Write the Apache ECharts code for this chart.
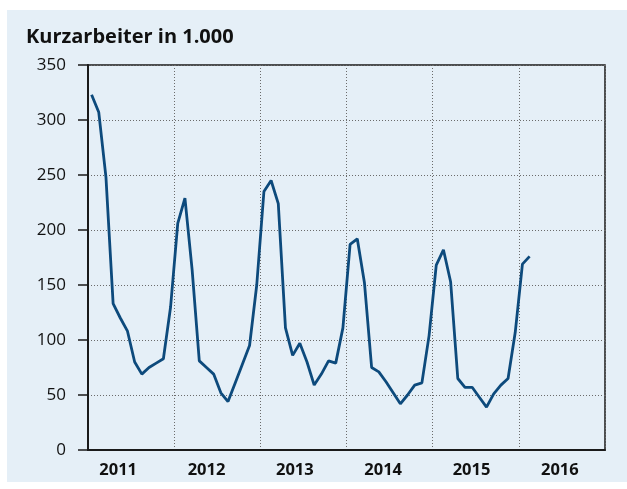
<!DOCTYPE html>
<html>
<head>
<meta charset="utf-8">
<script src="https://cdn.jsdelivr.net/npm/echarts@6/dist/echarts.min.js"></script>
<style>
  html, body { margin: 0; padding: 0; background: #ffffff; }
  #bg { position: absolute; left: 7px; top: 10px; width: 620px; height: 472px; background: #e5eff7; }
  #chart { position: absolute; left: 0; top: 0; width: 627px; height: 489px; }
</style>
</head>
<body>
<div id="bg"></div>
<div id="chart"></div>
<script>
// monthly values, Jan 2011 .. Feb 2016 (thousands)
const values2011 = [323, 307, 248, 133, 120, 108, 80, 69, 75, 79, 83, 130];
const values2012 = [206, 229, 164, 81, 75, 69, 52, 44, 61, 78, 95, 150];
const values2013 = [235, 245, 224, 111, 86, 97, 80, 59, 69, 81, 79, 111];
const values2014 = [187, 192, 152, 75, 71, 62, 52, 42, 50, 59, 61, 104];
const values2015 = [168, 182, 153, 65, 57, 57, 48, 39, 51, 59, 65, 107];
const values2016 = [169, 176];
const years = ['2011', '2012', '2013', '2014', '2015', '2016'];
const title = 'Kurzarbeiter in 1.000';

const monthly = [].concat(values2011, values2012, values2013, values2014, values2015, values2016);
// point sits in the middle of its month
const lineData = monthly.map((v, i) => [i + 0.5, v]);

const chart = echarts.init(document.getElementById('chart'), null, { renderer: 'canvas' });

const FONT = '"Open Sans", "Noto Sans", sans-serif';
const dotted = { color: '#6b6b6b', type: [1, 2], width: 1 };

chart.setOption({
  backgroundColor: 'transparent',
  animation: false,
  title: {
    text: title,
    left: 21,
    top: 22,
    textStyle: { color: '#111', fontSize: 20, fontWeight: 'bold', fontFamily: FONT },
  },
  grid: [
    { left: 88, right: 22, top: 65, bottom: 39, show: true, borderColor: '#1a1a1a', borderWidth: 1.5, backgroundColor: 'transparent' },
    // year labels sit a little left of the band centres in the original
    { left: 74, right: 23, top: 65, bottom: 39 },
  ],
  xAxis: [
    {
      type: 'value',
      gridIndex: 0,
      min: 0,
      max: 72,
      interval: 12,
      axisLine: { show: true, onZero: false, lineStyle: { color: '#1a1a1a', width: 2 } },
      axisTick: { show: false },
      axisLabel: { show: false },
      splitLine: { show: true, lineStyle: dotted },
    },
    {
      type: 'category',
      gridIndex: 1,
      data: years,
      boundaryGap: true,
      axisLine: { show: false },
      axisTick: { show: false },
      splitLine: { show: false },
      axisLabel: { color: '#111', fontSize: 16.5, fontWeight: 'bold', fontFamily: FONT, margin: 12 },
    },
  ],
  yAxis: [
    {
      type: 'value',
      gridIndex: 0,
      min: 0,
      max: 350,
      interval: 50,
      axisLine: { show: true, lineStyle: { color: '#1a1a1a', width: 2 } },
      axisTick: { show: true, length: 10, lineStyle: { color: '#1a1a1a', width: 1.5 } },
      axisLabel: { color: '#111', fontSize: 17, fontFamily: FONT, margin: 22 },
      splitLine: { show: true, lineStyle: dotted },
    },
    { type: 'value', gridIndex: 1, min: 0, max: 350, show: false },
  ],
  series: [
    {
      name: 'Kurzarbeiter',
      type: 'line',
      xAxisIndex: 0,
      yAxisIndex: 0,
      data: lineData,
      showSymbol: false,
      smooth: false,
      lineStyle: { color: '#0d4a7c', width: 2.8 },
      itemStyle: { color: '#0d4a7c' },
      emphasis: { disabled: true },
    },
  ],
});
</script>
</body>
</html>
